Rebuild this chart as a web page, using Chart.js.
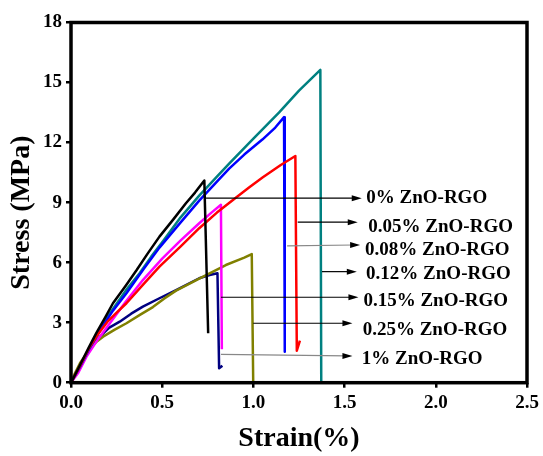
<!DOCTYPE html>
<html>
<head>
<meta charset="utf-8">
<script src="https://cdn.jsdelivr.net/npm/chart.js@4"></script>
<style>
  html, body { margin: 0; padding: 0; background: #fff; }
  #c { display: block; }
</style>
</head>
<body>
<canvas id="c" width="543" height="456"></canvas>
<script>
// series: [strain %, stress MPa]
const seriesNames = ['0% ZnO-RGO', '0.05% ZnO-RGO', '0.08% ZnO-RGO', '0.12% ZnO-RGO', '0.15% ZnO-RGO', '0.25% ZnO-RGO', '1% ZnO-RGO'];
const seriesColors = ['#000000', '#ff0000', '#0000ff', '#008080', '#ff00ff', '#808000', '#000080'];

const zno0 = [[0,0],[0.05,0.9],[0.1,1.8],[0.14,2.5],[0.19,3.3],[0.23,3.97],[0.3,4.85],[0.36,5.63],[0.42,6.45],[0.485,7.3],[0.56,8.15],[0.63,8.97],[0.68,9.5],[0.731,10.1],[0.752,2.47]];
const zno005 = [[0,0],[0.05,0.85],[0.1,1.75],[0.15,2.45],[0.2,3.05],[0.25,3.5],[0.304,3.97],[0.4,4.95],[0.485,5.8],[0.6,6.8],[0.703,7.72],[0.8,8.5],[0.9,9.22],[0.976,9.75],[1.05,10.25],[1.15,10.88],[1.23,11.33],[1.238,1.6],[1.255,2.1]];
const zno008 = [[0,0],[0.05,0.8],[0.1,1.7],[0.158,2.6],[0.23,3.6],[0.304,4.47],[0.4,5.7],[0.485,6.75],[0.6,8.0],[0.703,9.1],[0.8,10.05],[0.867,10.7],[0.95,11.4],[1.049,12.15],[1.12,12.75],[1.168,13.27],[1.172,1.55]];
const zno012 = [[0,0],[0.05,0.85],[0.1,1.7],[0.15,2.45],[0.2,3.3],[0.3,4.6],[0.376,5.47],[0.44,6.3],[0.503,7.05],[0.6,8.25],[0.703,9.35],[0.8,10.3],[0.867,10.95],[1.0,12.2],[1.14,13.5],[1.25,14.6],[1.367,15.63],[1.372,0]];
const zno015 = [[0,0],[0.04,0.5],[0.085,1.3],[0.15,2.2],[0.213,2.97],[0.3,4.05],[0.394,5.13],[0.5,6.2],[0.6,7.1],[0.703,7.97],[0.77,8.5],[0.822,8.89],[0.827,1.67]];
const zno025 = [[0,0],[0.02,0.45],[0.049,0.97],[0.1,1.65],[0.14,2.05],[0.176,2.3],[0.24,2.65],[0.304,2.97],[0.38,3.4],[0.449,3.78],[0.51,4.2],[0.576,4.6],[0.703,5.2],[0.849,5.88],[0.95,6.25],[0.991,6.43],[0.999,0]];
const zno1 = [[0,0],[0.05,0.85],[0.1,1.65],[0.158,2.3],[0.21,2.75],[0.267,3.05],[0.33,3.45],[0.394,3.8],[0.485,4.22],[0.576,4.63],[0.703,5.22],[0.76,5.38],[0.803,5.47],[0.812,0.72],[0.83,0.85]];
const seriesData = [zno0, zno005, zno008, zno012, zno015, zno025, zno1];

const xTickLabels = ['0.0', '0.5', '1.0', '1.5', '2.0', '2.5'];
const yTickLabels = ['0', '3', '6', '9', '12', '15', '18'];

// arrow callouts, in data units
const arrowStartX = [0.731, 1.243, 1.185, 1.376, 0.822, 0.999, 0.822];
const arrowStartY = [9.22, 8.02, 6.84, 5.55, 4.27, 2.97, 1.42];
const arrowEndX = [1.594, 1.572, 1.585, 1.567, 1.576, 1.543, 1.543];
const arrowEndY = [9.22, 8.02, 6.88, 5.55, 4.27, 2.97, 1.34];
const arrowColors = ['#000', '#000', '#888', '#000', '#000', '#000', '#888'];
const labelX = [1.619, 1.630, 1.612, 1.618, 1.603, 1.599, 1.594];
const labelY = [9.22, 7.77, 6.64, 5.42, 4.09, 2.64, 1.19];

const serif = "'Liberation Serif', 'Times New Roman', serif";

const frame = {
    id: 'frame',
    afterDatasetsDraw(chart) {
        const { ctx, chartArea: a, scales } = chart;
        ctx.save();
        // callouts
        for (let i = 0; i < seriesNames.length; i++) {
            const x1 = scales.x.getPixelForValue(arrowStartX[i]);
            const y1 = scales.y.getPixelForValue(arrowStartY[i]);
            const x2 = scales.x.getPixelForValue(arrowEndX[i]);
            const y2 = scales.y.getPixelForValue(arrowEndY[i]);
            ctx.strokeStyle = arrowColors[i];
            ctx.fillStyle = '#000';
            ctx.lineWidth = 1.2;
            ctx.beginPath();
            ctx.moveTo(x1, y1);
            ctx.lineTo(x2 - 6, y2);
            ctx.stroke();
            ctx.beginPath();
            ctx.moveTo(x2, y2);
            ctx.lineTo(x2 - 10, y2 - 3);
            ctx.lineTo(x2 - 10, y2 + 3);
            ctx.closePath();
            ctx.fill();
            ctx.font = 'bold 19px ' + serif;
            ctx.textAlign = 'left';
            ctx.textBaseline = 'middle';
            ctx.fillText(seriesNames[i], scales.x.getPixelForValue(labelX[i]), scales.y.getPixelForValue(labelY[i]));
        }
        // box
        ctx.strokeStyle = '#000';
        ctx.lineWidth = 3.5;
        ctx.strokeRect(a.left, a.top, a.right - a.left, a.bottom - a.top);
        // y title, sits a little below the axis middle in the original
        ctx.translate(22, scales.y.getPixelForValue(8.5));
        ctx.rotate(-Math.PI / 2);
        ctx.font = 'bold 28px ' + serif;
        ctx.textAlign = 'center';
        ctx.textBaseline = 'middle';
        ctx.fillText('Stress (MPa)', 0, 0);
        ctx.restore();
    }
};

new Chart(document.getElementById('c').getContext('2d'), {
    type: 'scatter',
    data: {
        datasets: seriesData.map((pts, i) => ({
            label: seriesNames[i],
            data: pts.map(p => ({ x: p[0], y: p[1] })),
            borderColor: seriesColors[i],
            backgroundColor: seriesColors[i],
            borderWidth: 2.5,
            borderJoinStyle: 'round',
            showLine: true,
            pointRadius: 0,
            tension: 0
        }))
    },
    options: {
        responsive: false,
        animation: false,
        devicePixelRatio: 1,
        layout: { padding: { top: 22.5, right: 16, left: 0, bottom: 0 } },
        plugins: { legend: { display: false }, tooltip: { enabled: false } },
        scales: {
            x: {
                type: 'linear', min: 0, max: 2.5,
                afterFit: s => { s.height = 73.3; },
                border: { display: false },
                grid: { drawOnChartArea: false, drawTicks: true, tickLength: 5, color: '#000', lineWidth: 2.5 },
                ticks: {
                    stepSize: 0.5, color: '#000', padding: 4, maxRotation: 0,
                    font: { family: serif, size: 19, weight: 'bold' },
                    callback: v => xTickLabels[Math.round(v / 0.5)]
                },
                title: {
                    display: true, text: 'Strain(%)', color: '#000', padding: 0,
                    font: { family: serif, size: 28, weight: 'bold', lineHeight: 1.2 }
                }
            },
            y: {
                min: 0, max: 18,
                afterFit: s => { s.width = 71; },
                border: { display: false },
                grid: { drawOnChartArea: false, drawTicks: true, tickLength: 5, color: '#000', lineWidth: 2.5 },
                ticks: {
                    stepSize: 3, color: '#000', padding: 4,
                    font: { family: serif, size: 19, weight: 'bold' },
                    callback: v => yTickLabels[Math.round(v / 3)]
                }
            }
        }
    },
    plugins: [frame]
});
</script>
</body>
</html>
